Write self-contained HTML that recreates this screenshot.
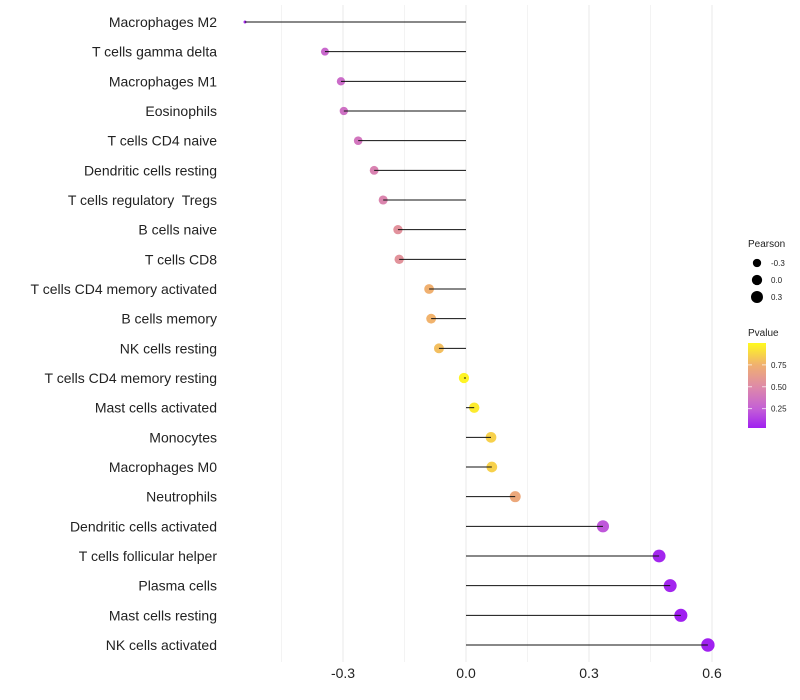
<!DOCTYPE html>
<html><head><meta charset="utf-8"><style>
body{margin:0;background:#fff;}
svg{font-family:"Liberation Sans",sans-serif;display:block}
text{white-space:pre}
</style></head><body>
<svg id="chart" width="800" height="700"></svg>
<script>
const categories=["Macrophages M2","T cells gamma delta","Macrophages M1","Eosinophils","T cells CD4 naive","Dendritic cells resting","T cells regulatory  Tregs","B cells naive","T cells CD8","T cells CD4 memory activated","B cells memory","NK cells resting","T cells CD4 memory resting","Mast cells activated","Monocytes","Macrophages M0","Neutrophils","Dendritic cells activated","T cells follicular helper","Plasma cells","Mast cells resting","NK cells activated"];
const pearson=[-0.539,-0.344,-0.305,-0.298,-0.263,-0.224,-0.202,-0.166,-0.163,-0.090,-0.085,-0.066,-0.005,0.020,0.061,0.063,0.120,0.334,0.471,0.498,0.524,0.590];
const pvalue=[0.06,0.3,0.32,0.35,0.38,0.45,0.47,0.55,0.56,0.75,0.76,0.8,0.98,0.95,0.86,0.86,0.7,0.22,0.05,0.05,0.03,0.02];
const xTicks=[-0.3,0.0,0.3,0.6];
const xTickLabels=["-0.3","0.0","0.3","0.6"];
const minorTicks=[-0.45,-0.15,0.15,0.45];
const sizeLegend=[-0.3,0.0,0.3];
const pLegend=[0.25,0.5,0.75];

const NS="http://www.w3.org/2000/svg";
const svg=document.getElementById('chart');
function el(t,a,p){const e=document.createElementNS(NS,t);for(const k in a)e.setAttribute(k,a[k]);(p||svg).appendChild(e);return e;}
const xS=v=>466+v*410;
const yS=i=>22+i*29.667;
const rS=v=>Math.sqrt(v>-0.344?16+31*(v+0.344):Math.max(2.25,2.25+70.5*(v+0.539)));
const stops=[[0.03,[160,32,240]],[0.25,[196,96,214]],[0.5,[222,138,168]],[0.75,[240,176,112]],[1,[255,250,30]]];
function col(p){p=Math.max(0.03,Math.min(1,p));for(let i=1;i<stops.length;i++){if(p<=stops[i][0]){const a=stops[i-1],b=stops[i],t=(p-a[0])/(b[0]-a[0]);return 'rgb('+a[1].map((c,j)=>Math.round(c+(b[1][j]-c)*t)).join(',')+')';}}return 'rgb(255,250,30)';}
const yTop=5,yBot=662;
minorTicks.forEach(v=>{const l=el('line',{x1:xS(v),x2:xS(v),y1:yTop,y2:yBot,stroke:'#f3f3f3','stroke-width':1});

});
xTicks.forEach((v,i)=>{const l=el('line',{x1:xS(v),x2:xS(v),y1:yTop,y2:yBot,stroke:'#e8e8e8','stroke-width':1});


const t=el('text',{x:xS(v),y:678,'text-anchor':'middle','font-size':14,fill:'#222'});t.textContent=xTickLabels[i];

});
categories.forEach((c,i)=>{
const y=yS(i);
const t=el('text',{x:217,y:y+5,'text-anchor':'end','font-size':14,fill:'#222'});t.textContent=c;


const d=el('circle',{cx:xS(pearson[i]),cy:y,r:rS(pearson[i]),fill:col(pvalue[i])});


const l=el('line',{x1:xS(0),x2:xS(pearson[i]),y1:y,y2:y,stroke:'#111','stroke-width':1});


});
const lt=el('text',{x:748,y:247,'font-size':10,fill:'#222'});lt.textContent='Pearson';


sizeLegend.forEach((v,i)=>{const y=263+i*17;
const c=el('circle',{cx:757,cy:y,r:rS(v),fill:'#000'});


const t=el('text',{x:771,y:y+3,'font-size':8,fill:'#222'});t.textContent=sizeLegend[i].toFixed(1);

});
const pt=el('text',{x:748,y:336,'font-size':10,fill:'#222'});pt.textContent='Pvalue';


const defs=el('defs',{});const g=el('linearGradient',{id:'pg',x1:0,y1:1,x2:0,y2:0},defs);
stops.forEach(s=>el('stop',{offset:(s[0]-0.03)/0.97,'stop-color':'rgb('+s[1].join(',')+')'},g));
const bar=el('rect',{x:748,y:343,width:18,height:85,fill:'url(#pg)'});


const pY=p=>428-(p-0.03)/0.97*85;
pLegend.forEach(p=>{const y=pY(p);
el('line',{x1:748,x2:752,y1:y,y2:y,stroke:'#fff','stroke-width':0.7});
el('line',{x1:762,x2:766,y1:y,y2:y,stroke:'#fff','stroke-width':0.7});
const t=el('text',{x:771,y:y+3,'font-size':8,fill:'#222'});t.textContent=p.toFixed(2);

});
</script>
</body></html>
